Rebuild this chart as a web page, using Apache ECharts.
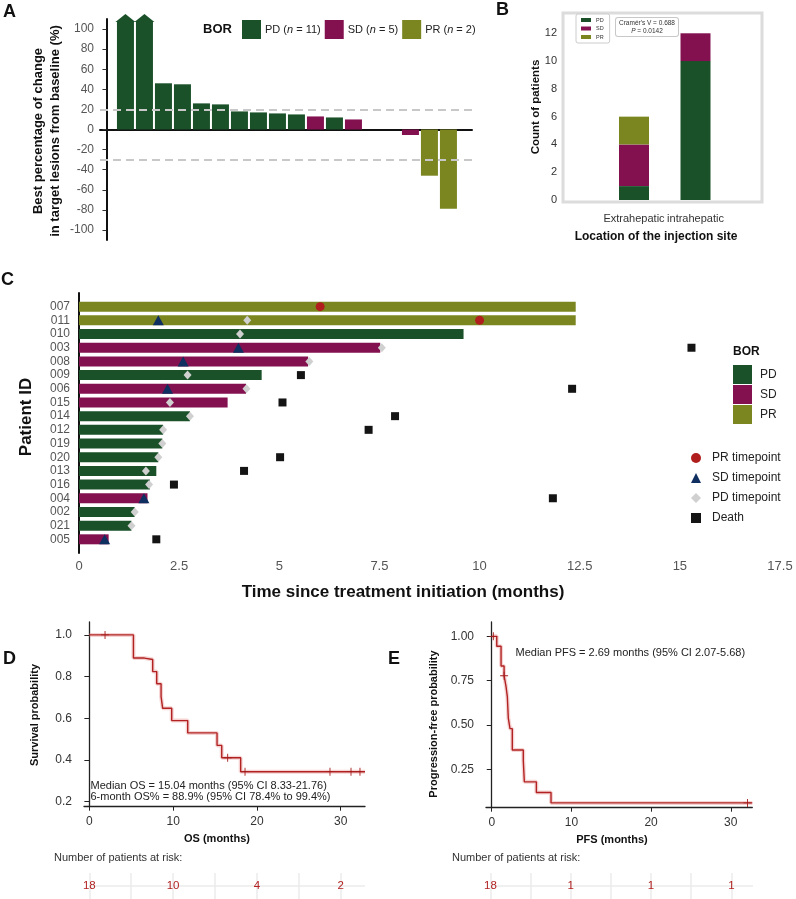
<!DOCTYPE html>
<html><head><meta charset="utf-8">
<script src="https://cdn.jsdelivr.net/npm/echarts@6/dist/echarts.min.js"></script>
<style>html,body{margin:0;padding:0;background:#fff}#c{width:796px;height:899px}</style>
</head><body><div id="c"></div>
<script>
const FONT = '"Liberation Sans", Arial, Helvetica, sans-serif';
const COL = {PD:'#1a5129', SD:'#83104f', PR:'#7b8621'};
const KM = '#b22222';

// ---- Panel A: waterfall ----
const wfBOR    = ['PD','PD','PD','PD','PD','PD','PD','PD','PD','PD','SD','PD','SD','SD','SD','SD','PR','PR'];
const wfValues = [107,107,46,45,26,25,18,17,16,15,13,12,10,0,0,-5.5,-46,-79];
const wfCapped = [true,true,false,false,false,false,false,false,false,false,false,false,false,false,false,false,false,false];
const wfLegendNames = {PD:'PD (n = 11)', SD:'SD (n = 5)', PR:'PR (n = 2)'};
const wfRefLines = [20, -30];
const wfTicks = [-100,-80,-60,-40,-20,0,20,40,60,80,100];

// ---- Panel B: stacked counts ----
const siteCats = ['Extrahepatic','intrahepatic'];
const sitePD = [1, 10];
const siteSD = [3, 2];
const sitePR = [2, 0];
const countTicks = [0,2,4,6,8,10,12];

// ---- Panel C: swimmer ----
const patientIDs = ['007','011','010','003','008','009','006','015','014','012','019','020','013','016','004','002','021','005'];
const patientBOR = ['PR','PR','PD','SD','SD','PD','SD','SD','PD','PD','PD','PD','PD','PD','SD','PD','PD','SD'];
const durations  = [12.4,12.4,9.6,7.52,5.72,4.56,4.17,3.71,2.77,2.1,2.08,1.98,1.93,1.77,1.71,1.39,1.31,0.74];
const prIDs = ['007','011'];
const prMonths = [6.02, 10.0];
const sdIDs = ['011','003','008','006','004','005'];
const sdMonths = [1.98, 3.98, 2.6, 2.21, 1.62, 0.64];
const pdIDs = ['011','010','003','008','009','006','015','014','012','019','020','013','016','002','021'];
const pdMonths = [4.2, 4.02, 7.56, 5.75, 2.71, 4.18, 2.27, 2.77, 2.1, 2.08, 1.98, 1.67, 1.75, 1.39, 1.31];
const deathIDs = ['009','003','006','015','014','012','020','013','016','004','005'];
const deathMonths = [5.54, 15.29, 12.31, 5.08, 7.89, 7.23, 5.02, 4.12, 2.37, 11.83, 1.93];

// ---- Panel D: OS ----
const osTimes = [0, 5.26, 6.57, 7.56, 8.04, 8.56, 8.75, 9.83, 11.74, 15.24, 15.80, 18.06, 32.9];
const osSurv  = [1, 0.889, 0.882, 0.824, 0.766, 0.704, 0.648, 0.589, 0.530, 0.470, 0.411, 0.344, 0.344];
const osCensorTimes = [1.87, 16.51, 18.58, 28.72, 31.23, 32.30];
const osCensorSurv  = [1, 0.411, 0.344, 0.344, 0.344, 0.344];
const osYTicks = [0.2, 0.4, 0.6, 0.8, 1.0];

// ---- Panel E: PFS ----
const pfsTimes = [0, 0.63, 1.17, 1.55, 1.79, 1.96, 2.08, 2.29, 2.58, 3.96, 4.09, 5.6, 7.44, 32.7];
const pfsSurv  = [1, 0.944, 0.833, 0.778, 0.718, 0.658, 0.538, 0.479, 0.359, 0.299, 0.179, 0.119, 0.060, 0.060];
const pfsCensorTimes = [0.2, 1.55, 32.1];
const pfsCensorSurv  = [1, 0.778, 0.060];
const pfsYTicks = [0.25, 0.5, 0.75, 1.0];

const kmXTicks = [0, 10, 20, 30];
const riskTimes = [0, 10, 20, 30];
const osRisk  = [18, 10, 4, 2];
const pfsRisk = [18, 1, 1, 1];

const PLUS = 'path://M4,0 L5,0 L5,4 L9,4 L9,5 L5,5 L5,9 L4,9 L4,5 L0,5 L0,4 L4,4 Z';

function txt(x, y, text, style, rot) {
  return {type:'text', x:x, y:y, rotation: rot || 0, silent:true, z:100,
    style: Object.assign({text:text, fontFamily:FONT, fontSize:12, fill:'#111', align:'center', verticalAlign:'middle'}, style || {})};
}

const series = [];

// A bars
['PD','SD','PR'].forEach(function(b){
  series.push({type:'bar', name: wfLegendNames[b], xAxisIndex:0, yAxisIndex:0, barWidth:17, barGap:'-100%',
    itemStyle:{color:COL[b]},
    data: wfValues.map(function(v,i){ return wfBOR[i]===b ? [i+1, v] : null; }).filter(Boolean),
    markLine: b==='PD' ? {silent:true, symbol:['none','none'], label:{show:false},
      lineStyle:{color:'#c8c8c8', type:[8,5], width:2}, data: wfRefLines.map(function(v){return {yAxis:v};})} : undefined
  });
});
series.push({type:'scatter', xAxisIndex:0, yAxisIndex:0, symbol:'triangle', symbolSize:[20,8], symbolOffset:[0,'-50%'],
  itemStyle:{color:COL.PD, opacity:1}, z:3,
  data: wfValues.map(function(v,i){ return wfCapped[i] ? [i+1, v] : null; }).filter(Boolean)});

// B stacked bars (category axis in an inner grid)
[['PD',sitePD],['SD',siteSD],['PR',sitePR]].forEach(function(p){
  series.push({type:'bar', name:p[0], xAxisIndex:7, yAxisIndex:7, stack:'site', barWidth:30,
    itemStyle:{color:COL[p[0]]}, data: p[1]});
});

// C swimmer bars
['PD','SD','PR'].forEach(function(b){
  series.push({type:'bar', name:b, xAxisIndex:2, yAxisIndex:2, barWidth:10, barGap:'-100%',
    itemStyle:{color:COL[b]},
    data: patientIDs.map(function(id,i){ return patientBOR[i]===b ? [durations[i], id] : null; }).filter(Boolean)});
});
function pts(ids, months){ return ids.map(function(id,i){ return [months[i], id]; }); }
series.push({type:'scatter', name:'PR timepoint', xAxisIndex:2, yAxisIndex:2, symbol:'circle', symbolSize:9, itemStyle:{color:'#b01e1e', opacity:1}, z:5, data: pts(prIDs, prMonths)});
series.push({type:'scatter', name:'SD timepoint', xAxisIndex:2, yAxisIndex:2, symbol:'triangle', symbolSize:[11,10], itemStyle:{color:'#0f2f60', opacity:1}, z:5, data: pts(sdIDs, sdMonths)});
series.push({type:'scatter', name:'PD timepoint', xAxisIndex:2, yAxisIndex:2, symbol:'diamond', symbolSize:[8,9], itemStyle:{color:'#d0d0d0', opacity:1}, z:5, data: pts(pdIDs, pdMonths)});
series.push({type:'scatter', name:'Death', xAxisIndex:2, yAxisIndex:2, symbol:'rect', symbolSize:8, itemStyle:{color:'#141414', opacity:1}, z:5, data: pts(deathIDs, deathMonths)});

// D / E KM curves
function km(xi, times, surv, ct, cs) {
  const d = times.map(function(t,i){ return [t, surv[i]]; });
  series.push({type:'line', xAxisIndex:xi, yAxisIndex:xi, step:'end', showSymbol:false, silent:true,
    lineStyle:{color:'rgba(225,130,130,0.35)', width:4}, data:d});
  series.push({type:'line', xAxisIndex:xi, yAxisIndex:xi, step:'end', showSymbol:false, silent:true,
    lineStyle:{color:KM, width:1.4}, data:d, z:3});
  series.push({type:'scatter', xAxisIndex:xi, yAxisIndex:xi, symbol:PLUS, symbolSize:8, z:4,
    itemStyle:{color:'#a51c1c', opacity:1}, data: ct.map(function(t,i){ return [t, cs[i]]; })});
}
km(3, osTimes, osSurv, osCensorTimes, osCensorSurv);
km(4, pfsTimes, pfsSurv, pfsCensorTimes, pfsCensorSurv);

function risk(xi, counts) {
  series.push({type:'scatter', xAxisIndex:xi, yAxisIndex:xi, symbolSize:0, z:6, itemStyle:{color:KM},
    label:{show:true, position:'inside', formatter:function(p){return String(p.value[2]);}, color:KM, opacity:1,
      textBorderWidth:0, fontSize:11.5, fontFamily:FONT},
    markLine:{silent:true, z:1, symbol:['none','none'], label:{show:false}, lineStyle:{color:'#ebebeb', width:1.5, type:'solid'}, data:[{yAxis:1}]},
    data: riskTimes.map(function(t,i){ return [t, 1, counts[i]]; })});
}
risk(5, osRisk);
risk(6, pfsRisk);

const padIDs = [''].concat(patientIDs).concat(['']);
const noSplit = {show:false};

const option = {
  animation:false,
  textStyle:{fontFamily:FONT},
  grid:[
    {left:100, top:19, width:372, height:221},
    {left:563, top:13, width:199, height:189, show:true, borderColor:'#dcdcdc', borderWidth:3, backgroundColor:'#fff'},
    {left:79, top:293, width:701, height:260},
    {left:84, top:622, width:281, height:184.7},
    {left:486, top:622, width:266.3, height:185.7},
    {left:89.3, top:873, width:275.7, height:26},
    {left:490.5, top:873, width:262.5, height:26},
    {left:603.25, top:13, width:123, height:189}
  ],
  xAxis:[
    {gridIndex:0, type:'value', min:-0.34, max:19.24, axisLine:{onZero:true, lineStyle:{color:'#111', width:2}}, axisTick:{show:false}, axisLabel:{show:false}, splitLine:noSplit},
    {gridIndex:1, type:'value', min:0, max:1, show:false},
    {gridIndex:2, type:'value', min:0, max:17.5, interval:2.5, axisLine:{lineStyle:{color:'#111', width:2}},
      axisTick:{length:3, lineStyle:{color:'#111'}}, axisLabel:{fontSize:13, color:'#555', margin:7}, splitLine:noSplit},
    {gridIndex:3, type:'value', min:-0.64, max:32.9, axisLine:{lineStyle:{color:'#222', width:1.3}},
      axisTick:{customValues:kmXTicks, length:4, lineStyle:{color:'#222'}}, axisLabel:{customValues:kmXTicks, fontSize:12, color:'#333', margin:9}, splitLine:noSplit},
    {gridIndex:4, type:'value', min:-0.72, max:32.7, axisLine:{lineStyle:{color:'#222', width:1.3}},
      axisTick:{customValues:kmXTicks, length:4, lineStyle:{color:'#222'}}, axisLabel:{customValues:kmXTicks, fontSize:12, color:'#333', margin:9}, splitLine:noSplit},
    {gridIndex:5, type:'value', min:0, max:32.9, interval:5, axisLine:{show:false}, axisTick:{show:false}, axisLabel:{show:false},
      splitLine:{show:true, showMaxLine:false, lineStyle:{color:'#ebebeb', width:1.5}}},
    {gridIndex:6, type:'value', min:0, max:32.7, interval:5, axisLine:{show:false}, axisTick:{show:false}, axisLabel:{show:false},
      splitLine:{show:true, showMaxLine:false, lineStyle:{color:'#ebebeb', width:1.5}}},
    {gridIndex:7, type:'category', data:siteCats, axisLine:{show:false}, axisTick:{show:false},
      axisLabel:{interval:0, fontSize:11, color:'#333', margin:11}, splitLine:noSplit}
  ],
  yAxis:[
    {gridIndex:0, type:'value', min:-110, max:110, axisLine:{show:true, lineStyle:{color:'#111', width:2}},
      axisTick:{show:true, customValues:wfTicks, length:4, lineStyle:{color:'#333'}}, axisLabel:{customValues:wfTicks, color:'#555', fontSize:12, margin:6}, splitLine:noSplit},
    {gridIndex:1, type:'value', min:-0.144, max:13.46, axisLine:{show:false}, axisTick:{show:false},
      axisLabel:{customValues:countTicks, fontSize:11, color:'#333', margin:6}, splitLine:noSplit},
    {gridIndex:2, type:'category', data:padIDs, boundaryGap:false, inverse:true, axisLine:{lineStyle:{color:'#111', width:2}},
      axisTick:{show:false}, axisLabel:{interval:0, fontSize:12, color:'#555', margin:9}, splitLine:noSplit},
    {gridIndex:3, type:'value', min:0.176, max:1.062, axisLine:{show:true, lineStyle:{color:'#222', width:1.3}},
      axisTick:{show:true, customValues:osYTicks, length:5, lineStyle:{color:'#222'}},
      axisLabel:{customValues:osYTicks, formatter:function(v){return v.toFixed(1);}, fontSize:12, color:'#333', margin:12}, splitLine:noSplit},
    {gridIndex:4, type:'value', min:0.033, max:1.081, axisLine:{show:true, lineStyle:{color:'#222', width:1.3}},
      axisTick:{show:true, customValues:pfsYTicks, length:5, lineStyle:{color:'#222'}},
      axisLabel:{customValues:pfsYTicks, formatter:function(v){return v.toFixed(2);}, fontSize:12, color:'#333', margin:12}, splitLine:noSplit},
    {gridIndex:5, type:'value', min:0, max:2, show:false},
    {gridIndex:6, type:'value', min:0, max:2, show:false},
    {gridIndex:7, type:'value', min:-0.144, max:13.46, show:false}
  ],
  legend:[
    {data:['PD (n = 11)','SD (n = 5)','PR (n = 2)'], left:242, top:20, padding:0, icon:'rect', itemWidth:19, itemHeight:19, itemGap:4, selectedMode:false,
      formatter:function(n){ return n.replace('(n', '({i|n}'); },
      textStyle:{fontSize:11, color:'#222', padding:[0,0,0,-1], rich:{i:{fontStyle:'italic', fontSize:11, color:'#222'}}}},
    {data:['PD','SD','PR'], orient:'vertical', left:576, top:14, icon:'rect', itemWidth:10, itemHeight:4, itemGap:2.5, selectedMode:false,
      padding:[3,6,3,5], borderColor:'#cccccc', borderWidth:1, borderRadius:2, backgroundColor:'#fff',
      textStyle:{fontSize:5.5, color:'#333'}},
    {data:['PD','SD','PR'], orient:'vertical', left:733, top:365, padding:0, icon:'rect', itemWidth:19, itemHeight:19, itemGap:1, selectedMode:false,
      textStyle:{fontSize:12, color:'#222', padding:[0,0,0,3]}},
    {data:[{name:'PR timepoint', icon:'circle'},{name:'SD timepoint', icon:'triangle'},{name:'PD timepoint', icon:'diamond'},{name:'Death', icon:'rect'}],
      orient:'vertical', left:691, top:452, padding:0, itemWidth:10, itemHeight:10, itemGap:8, selectedMode:false,
      textStyle:{fontSize:12, color:'#222', padding:[0,0,0,6]}}
  ],
  graphic:[
    txt(3, 12, 'A', {fontSize:18, fontWeight:'bold', align:'left'}),
    txt(496, 10, 'B', {fontSize:18, fontWeight:'bold', align:'left'}),
    txt(1, 280, 'C', {fontSize:18, fontWeight:'bold', align:'left'}),
    txt(3, 659, 'D', {fontSize:18, fontWeight:'bold', align:'left'}),
    txt(388, 659, 'E', {fontSize:18, fontWeight:'bold', align:'left'}),
    txt(46.5, 131, 'Best percentage of change\nin target lesions from baseline (%)', {fontSize:13, fontWeight:'bold', lineHeight:17}, Math.PI/2),
    txt(203, 29, 'BOR', {fontSize:13, fontWeight:'bold', align:'left'}),
    txt(536, 107, 'Count of patients', {fontSize:11.5, fontWeight:'bold'}, Math.PI/2),
    txt(656, 237, 'Location of the injection site', {fontSize:12, fontWeight:'bold'}),
    txt(647, 27, "Cramér's V = 0.688\n{i|P} = 0.0142", {fontSize:6.5, fill:'#333', lineHeight:8, backgroundColor:'#fff', borderColor:'#c8c8c8', borderWidth:1, borderRadius:2, padding:[1,3], rich:{i:{fontStyle:'italic', fontSize:6.5, fill:'#333'}}}),
    txt(26, 417, 'Patient ID', {fontSize:17, fontWeight:'bold'}, Math.PI/2),
    txt(403, 592, 'Time since treatment initiation (months)', {fontSize:17, fontWeight:'bold'}),
    txt(733, 352, 'BOR', {fontSize:12, fontWeight:'bold', align:'left'}),
    txt(35, 715, 'Survival probability', {fontSize:11, fontWeight:'bold'}, Math.PI/2),
    txt(217, 839, 'OS (months)', {fontSize:11, fontWeight:'bold'}),
    txt(434, 724, 'Progression-free probability', {fontSize:11, fontWeight:'bold'}, Math.PI/2),
    txt(612, 840, 'PFS (months)', {fontSize:11, fontWeight:'bold'}),
    txt(90.5, 791, 'Median OS = 15.04 months (95% CI 8.33-21.76)\n6-month OS% = 88.9% (95% CI 78.4% to 99.4%)', {fontSize:11, fill:'#222', align:'left', lineHeight:11}),
    txt(515.5, 653, 'Median PFS = 2.69 months (95% CI 2.07-5.68)', {fontSize:11, fill:'#222', align:'left'}),
    txt(54, 858, 'Number of patients at risk:', {fontSize:11, fill:'#333', align:'left'}),
    txt(452, 858, 'Number of patients at risk:', {fontSize:11, fill:'#333', align:'left'})
  ],
  series: series
};

const chart = echarts.init(document.getElementById('c'), null, {renderer:'canvas'});
chart.setOption(option);
</script>
</body></html>
